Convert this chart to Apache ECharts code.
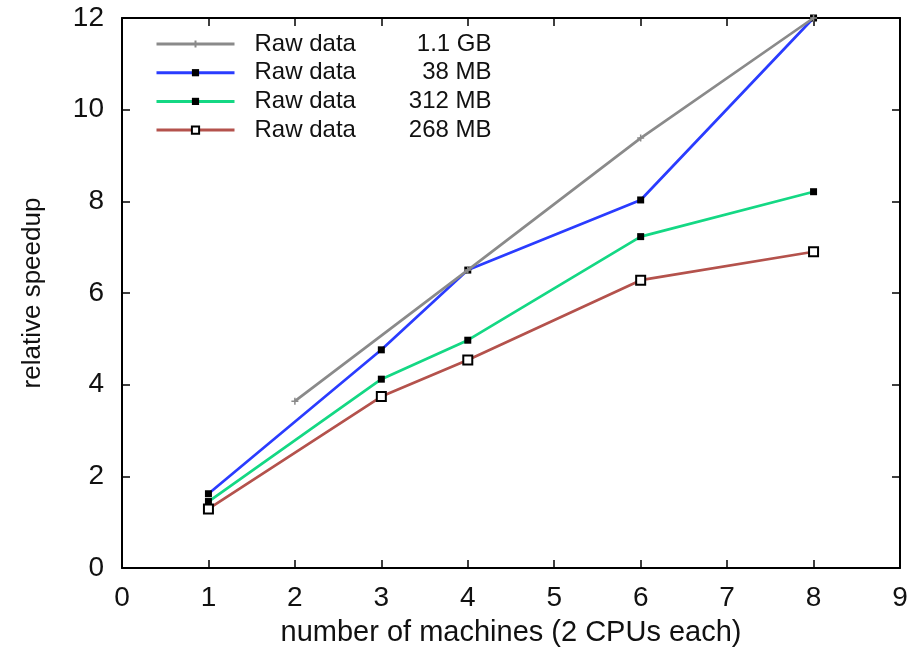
<!DOCTYPE html>
<html><head><meta charset="utf-8">
<script src="https://cdn.jsdelivr.net/npm/echarts@6/dist/echarts.min.js"></script>
<style>html,body{margin:0;padding:0;background:#fff}#c{width:912px;height:648px}</style>
</head><body><div id="c"></div>
<script>
var seriesNames = ['Raw data   1.1 GB', 'Raw data    38 MB', 'Raw data  312 MB', 'Raw data  268 MB'];
var sizeLabels = ['1.1 GB', '38 MB', '312 MB', '268 MB'];
var x_gb = [2, 4, 6, 8];
var y_gb = [3.64, 6.5, 9.38, 12.0];
var x_38 = [1, 3, 4, 6, 8];
var y_38 = [1.62, 4.76, 6.5, 8.03, 12.0];
var x_312 = [1, 3, 4, 6, 8];
var y_312 = [1.45, 4.12, 4.97, 7.23, 8.21];
var x_268 = [1, 3, 4, 6, 8];
var y_268 = [1.29, 3.74, 4.54, 6.28, 6.90];
var xTicks = [0,1,2,3,4,5,6,7,8,9];
var yTicks = [0,2,4,6,8,10,12];

function pairs(xs, ys){ return xs.map(function(x,i){ return [x, ys[i]]; }); }
var font = 'Liberation Sans, Arial, sans-serif';
var chart = echarts.init(document.getElementById('c'), null, {renderer:'canvas'});
var colors = ['#8a8a8a', '#2a3cff', '#14d884', '#b4524c'];
var symbols = ['path://M0,5L10,5M5,0L5,10', 'rect', 'rect', 'rect'];
var data = [pairs(x_gb,y_gb), pairs(x_38,y_38), pairs(x_312,y_312), pairs(x_268,y_268)];
var series = data.map(function(d,i){
  var st;
  if (i === 0) st = {color:'#8a8a8a', borderColor:'#8a8a8a', borderWidth:1.5};
  else if (i === 3) st = {color:'#ffffff', borderColor:'#000', borderWidth:2};
  else st = {color:'#000', borderColor:'#000', borderWidth:0};
  return {
    name: seriesNames[i], type:'line', data:d, xAxisIndex:0, yAxisIndex:0,
    symbol: symbols[i], symbolSize: i===0?7:(i===3?9:7), showSymbol:true,
    lineStyle:{color:colors[i], width:2.7}, itemStyle:st, z: 10-i, animation:false
  };
});
var axisCommon = {
  axisLine:{show:true, onZero:false, lineStyle:{color:'#000', width:2}},
  axisTick:{show:true, inside:true, length:8, lineStyle:{color:'#000', width:1.5}},
  splitLine:{show:false}
};
chart.setOption({
  animation:false,
  backgroundColor:'#fff',
  grid:{left:122, right:12, top:18, bottom:80, containLabel:false, outerBoundsMode:'none'},
  legend:{
    orient:'vertical', left:150, top:27, itemWidth:78, itemHeight:9, itemGap:4.7,
    data: seriesNames,
    lineStyle:{width:3},
    formatter:function(name){
      var i = seriesNames.indexOf(name);
      return '{a|Raw data}{b|' + sizeLabels[i] + '}';
    },
    textStyle:{fontFamily:font, fontSize:24, color:'#111', lineHeight:24,
      rich:{a:{fontFamily:font, fontSize:24, color:'#111', width:100, lineHeight:24, padding:[0,0,0,15]},
            b:{fontFamily:font, fontSize:24, color:'#111', width:137, align:'right', lineHeight:24}}}
  },
  xAxis:[
    Object.assign({type:'value', min:0, max:9, interval:1, position:'bottom',
      name:'number of machines (2 CPUs each)', nameLocation:'middle', nameGap:50,
      nameTextStyle:{fontFamily:font, fontSize:29, color:'#111'},
      axisLabel:{fontFamily:font, fontSize:28, color:'#111', margin:16,
        formatter:function(v){ return xTicks.indexOf(v)>=0 ? String(v) : ''; }}}, axisCommon),
    Object.assign({type:'value', min:0, max:9, interval:1, position:'top', axisLabel:{show:false}}, axisCommon)
  ],
  yAxis:[
    Object.assign({type:'value', min:0, max:12, interval:2, position:'left',
      name:'relative speedup', nameLocation:'middle', nameGap:76, nameRotate:90,
      nameTextStyle:{fontFamily:font, fontSize:26, color:'#111'},
      axisLabel:{fontFamily:font, fontSize:28, color:'#111', margin:18,
        formatter:function(v){ return yTicks.indexOf(v)>=0 ? String(v) : ''; }}}, axisCommon),
    Object.assign({type:'value', min:0, max:12, interval:2, position:'right', axisLabel:{show:false}}, axisCommon)
  ],
  series: series
});
</script></body></html>
